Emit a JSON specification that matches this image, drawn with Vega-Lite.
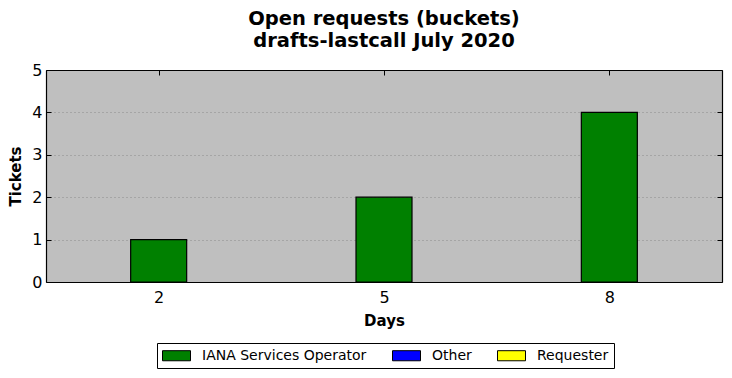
{
  "$schema": "https://vega.github.io/schema/vega-lite/v6.json",
  "width": 676,
  "height": 212,
  "autosize": "none",
  "padding": {"left": 46, "top": 70, "right": 10, "bottom": 96},
  "background": "white",
  "title": {
    "text": ["Open requests (buckets)", "drafts-lastcall July 2020"],
    "font": "DejaVu Sans",
    "fontSize": 19.5,
    "fontWeight": "bold",
    "lineHeight": 22,
    "color": "black",
    "anchor": "middle",
    "offset": 11
  },
  "config": {
    "view": {"fill": "#bfbfbf", "stroke": null},
    "axis": {
      "labelFont": "DejaVu Sans",
      "labelFontSize": 16,
      "labelColor": "black",
      "titleFont": "DejaVu Sans",
      "titleFontSize": 15,
      "titleFontWeight": "bold",
      "titleColor": "black",
      "domain": true,
      "domainColor": "black",
      "domainWidth": 1.2,
      "tickColor": "black",
      "tickSize": -5,
      "tickWidth": 1
    }
  },
  "data": {
    "values": [
      {"day": 2, "tickets": 1, "category": "IANA Services Operator"},
      {"day": 5, "tickets": 2, "category": "IANA Services Operator"},
      {"day": 8, "tickets": 4, "category": "IANA Services Operator"}
    ]
  },
  "layer": [
    {
      "mark": {"type": "bar", "width": 56, "stroke": "black", "strokeWidth": 1.2},
      "encoding": {
        "x": {
          "field": "day",
          "type": "quantitative",
          "scale": {"domain": [0.5, 9.5], "nice": false, "zero": false, "padding": 0},
          "axis": {"values": [2, 5, 8], "title": "Days", "grid": false, "labelPadding": 12, "titlePadding": 8, "orient": "bottom"}
        },
        "y": {
          "field": "tickets",
          "type": "quantitative",
          "scale": {"domain": [0, 5], "nice": false, "padding": 0},
          "axis": {
            "values": [0, 1, 2, 3, 4, 5],
            "title": "Tickets",
            "grid": true,
            "gridColor": "#8a8a8a",
            "gridDash": [1, 3],
            "gridWidth": 1,
            "labelPadding": 9,
            "titlePadding": 8,
            "orient": "left"
          }
        },
        "color": {
          "field": "category",
          "type": "nominal",
          "scale": {
            "domain": ["IANA Services Operator", "Other", "Requester"],
            "range": ["#008000", "#0000ff", "#ffff00"]
          },
          "legend": {
            "title": null,
            "orient": "none",
            "legendX": 111,
            "legendY": 273,
            "direction": "horizontal",
            "columns": 3,
            "symbolType": "M-2,-0.72H2V0.72H-2Z",
            "symbolSize": 196,
            "symbolOffset": 7,
            "symbolStrokeColor": "black",
            "symbolStrokeWidth": 1,
            "symbolOpacity": 1,
            "labelFont": "DejaVu Sans",
            "labelFontSize": 14,
            "labelColor": "black",
            "labelOffset": 18,
            "labelLimit": 400,
            "columnPadding": 23,
            "padding": 5,
            "strokeColor": "black",
            "fillColor": "white"
          }
        }
      }
    },
    {
      "mark": {"type": "point", "opacity": 0},
      "encoding": {
        "x": {
          "field": "day",
          "type": "quantitative",
          "axis": {"values": [2, 5, 8], "title": null, "labels": false, "grid": false, "orient": "top"}
        },
        "y": {
          "field": "tickets",
          "type": "quantitative",
          "axis": {"values": [0, 1, 2, 3, 4, 5], "title": null, "labels": false, "grid": false, "orient": "right"}
        }
      }
    }
  ],
  "resolve": {"axis": {"x": "independent", "y": "independent"}}
}
